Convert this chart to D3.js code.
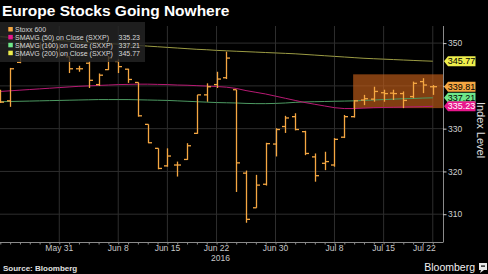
<!DOCTYPE html>
<html>
<head>
<meta charset="utf-8">
<script src="https://cdnjs.cloudflare.com/ajax/libs/d3/7.8.5/d3.min.js"></script>
<style>
body { margin: 0; background: #000; }
svg { display: block; background: #000; }
</style>
</head>
<body>
<svg width="488" height="274"></svg>
<script>
// trading days shown, one bar each
const dates = ["May 23","May 24","May 25","May 26","May 27","May 30","May 31","Jun 1","Jun 2","Jun 3",
    "Jun 6","Jun 7","Jun 8","Jun 9","Jun 10","Jun 13","Jun 14","Jun 15","Jun 16","Jun 17",
    "Jun 20","Jun 21","Jun 22","Jun 23","Jun 24","Jun 27","Jun 28","Jun 29","Jun 30","Jul 1",
    "Jul 4","Jul 5","Jul 6","Jul 7","Jul 8","Jul 11","Jul 12","Jul 13","Jul 14","Jul 15",
    "Jul 18","Jul 19","Jul 20","Jul 21","Jul 22"];
const opens = [338.6,336.5,345.5,349.4,349.0,349.5,349.0,346.8,344.0,345.3,
    340.3,343.8,345.7,343.9,340.8,331.0,325.4,321.3,321.5,322.8,
    328.9,337.9,340.3,341.9,339.1,319.6,311.5,317.0,326.4,330.5,
    332.8,329.3,323.4,321.9,321.5,328.0,332.8,336.7,336.9,338.4,
    338.3,338.2,337.5,341.0,339.8];
const highs = [339.1,344.2,350.5,350.5,350.2,350.3,350.0,346.9,344.7,345.8,
    342.9,347.0,346.2,344.0,340.8,331.0,325.4,325.4,322.3,326.6,
    337.9,340.6,343.3,348.0,339.1,320.2,319.2,326.7,330.1,333.0,
    333.6,329.5,324.2,324.6,327.8,333.2,336.7,337.9,339.8,339.1,
    339.1,338.7,341.0,341.8,340.2];
const lows = [336.0,335.1,345.3,348.3,348.5,348.6,346.8,343.0,343.3,339.5,
    340.0,343.7,343.0,340.7,332.8,326.6,320.5,321.1,318.8,322.7,
    328.8,336.3,339.5,341.6,315.2,308.0,311.5,316.7,323.5,329.0,
    329.6,323.8,317.6,320.3,321.1,327.8,332.6,335.5,336.3,336.3,
    336.7,334.8,337.1,338.3,337.9];
const closes = [336.2,344.0,349.5,349.0,349.6,349.2,347.2,344.0,344.0,341.3,
    342.5,346.5,344.5,341.5,333.0,326.7,320.7,323.6,321.5,326.0,
    337.9,339.8,341.6,346.5,322.0,308.8,316.8,326.5,329.8,332.5,
    329.8,324.2,319.0,322.3,327.5,332.8,336.5,337.0,338.7,338.2,
    338.2,336.6,340.6,340.2,339.81];

const sma50 = [338.7,338.85,339.0,339.15,339.3,339.45,339.6,339.75,339.9,340.0,
    340.1,340.2,340.3,340.35,340.4,340.4,340.35,340.3,340.2,340.15,
    340.05,339.95,339.85,339.7,339.4,338.9,338.5,338.1,337.6,337.1,
    336.6,336.1,335.7,335.3,334.9,334.7,334.7,334.8,334.9,334.95,
    335.0,335.05,335.1,335.15,335.23];
const sma100 = [336.3,336.35,336.4,336.45,336.5,336.55,336.6,336.65,336.7,336.75,
    336.8,336.8,336.8,336.8,336.75,336.7,336.65,336.6,336.5,336.4,
    336.3,336.2,336.1,336.05,336.0,335.9,335.85,335.85,335.9,336.0,
    336.15,336.25,336.3,336.35,336.4,336.45,336.5,336.6,336.7,336.8,
    336.9,337.0,337.05,337.15,337.21];
const sma200 = [351.5,351.35,351.2,351.05,350.9,350.75,350.6,350.45,350.3,350.2,
    350.05,349.9,349.75,349.6,349.45,349.3,349.15,349.0,348.85,348.7,
    348.55,348.45,348.3,348.2,348.1,348.0,347.9,347.8,347.7,347.6,
    347.5,347.35,347.2,347.05,346.9,346.75,346.6,346.45,346.35,346.25,
    346.15,346.05,345.95,345.85,345.77];

const xTickLabels = ["May 31","Jun 8","Jun 15","Jun 22","Jun 30","Jul 8","Jul 15","Jul 22"];
const yTicks = [310, 320, 330, 340, 350];
const legendNames = ["Stoxx 600","SMAVG (50) on Close (SXXP)","SMAVG (100) on Close (SXXP)","SMAVG (200) on Close (SXXP)"];
const legendValues = ["", "335.23", "337.21", "345.77"];
// shaded range at the end
const boxStart = "Jul 12";
const boxLow = 334.8;
const boxHigh = 342.7;

const colors = {
    bar: "#f5a742",
    sma50: "#b81a74",
    sma100: "#4d9a62",
    sma200: "#9c9c44",
    key50: "#e8168c",
    key100: "#6fe88a",
    key200: "#eeee4c"
};

function drawChart(){
    const svg = d3.select("svg");
    const plot = {left: 0, right: 443, top: 26, bottom: 242};

    const xScale = d3.scaleLinear().domain([0, 45]).range([0.3, 442.6]);
    const yScale = d3.scaleLinear().domain([303.5, 354]).range([plot.bottom, plot.top]);

    // grid
    svg.append("g").selectAll("line").data(yTicks).enter().append("line")
        .attr("x1", plot.left).attr("x2", plot.right)
        .attr("y1", d => yScale(d)).attr("y2", d => yScale(d))
        .style("stroke", "#2e2e2e").style("stroke-width", 1);
    svg.append("g").selectAll("line").data(xTickLabels).enter().append("line")
        .attr("x1", d => xScale(dates.indexOf(d))).attr("x2", d => xScale(dates.indexOf(d)))
        .attr("y1", plot.top).attr("y2", plot.bottom)
        .style("stroke", "#2e2e2e").style("stroke-width", 1);

    // highlight box
    svg.append("rect")
        .attr("x", xScale(dates.indexOf(boxStart)) - 1)
        .attr("y", yScale(boxHigh))
        .attr("width", plot.right - xScale(dates.indexOf(boxStart)) + 1)
        .attr("height", yScale(boxLow) - yScale(boxHigh))
        .style("fill", "#c4601a").style("opacity", 0.65);

    // moving averages
    const maLines = [[sma200, colors.sma200], [sma100, colors.sma100], [sma50, colors.sma50]];
    maLines.forEach(function(m){
        svg.append("path")
            .datum(m[0])
            .attr("d", d3.line().x((d, i) => xScale(i)).y(d => yScale(d)))
            .style("fill", "none")
            .style("stroke", m[1])
            .style("stroke-width", 1);
    });

    // OHLC bars
    const bars = svg.append("g").style("stroke", colors.bar).style("stroke-width", 1.3);
    dates.forEach(function(d, i){
        const cx = Math.round(xScale(i)) + 0.5;
        bars.append("line").attr("x1", cx).attr("x2", cx)
            .attr("y1", yScale(highs[i])).attr("y2", yScale(lows[i]));
        bars.append("line").attr("x1", cx - 3.5).attr("x2", cx)
            .attr("y1", yScale(opens[i])).attr("y2", yScale(opens[i]));
        bars.append("line").attr("x1", cx).attr("x2", cx + 3.5)
            .attr("y1", yScale(closes[i])).attr("y2", yScale(closes[i]));
    });

    // x axis with daily minor ticks
    const xAxis = svg.append("g")
        .attr("transform", "translate(0," + plot.bottom + ")")
        .call(d3.axisBottom(xScale).tickValues(d3.range(dates.length)).tickSize(2.5).tickFormat(""));
    xAxis.select(".domain").attr("d", "M0,0.5H" + plot.right).style("stroke", "#8a8a8a");
    xAxis.selectAll(".tick line").style("stroke", "#8a8a8a");

    svg.append("g").selectAll("text").data(xTickLabels).enter().append("text")
        .attr("x", (d, i) => i === xTickLabels.length - 1 ? xScale(dates.indexOf(d)) + 3 : xScale(dates.indexOf(d)))
        .attr("y", 250.5)
        .attr("text-anchor", (d, i) => i === xTickLabels.length - 1 ? "end" : "middle")
        .style("font-family", "Liberation Sans, Arial, sans-serif")
        .style("font-size", "8.5px")
        .style("fill", "#c8c8c8")
        .text(d => d);

    svg.append("text")
        .attr("x", xScale(dates.indexOf("Jun 22")) + 4)
        .attr("y", 260.5)
        .attr("text-anchor", "middle")
        .style("font-family", "Liberation Sans, Arial, sans-serif")
        .style("font-size", "8.5px")
        .style("fill", "#c8c8c8")
        .text("2016");

    // right axis, the 340 label sits under the last-close tag in the original
    const yAxis = svg.append("g")
        .attr("transform", "translate(" + plot.right + ",0)")
        .call(d3.axisRight(yScale).tickValues(yTicks).tickSize(3.5).tickPadding(1.5)
            .tickFormat(d => d === 340 ? "" : d));
    yAxis.select(".domain").attr("d", "M0.5," + plot.top + "V" + (plot.bottom + 0.5)).style("stroke", "#8a8a8a");
    yAxis.selectAll(".tick line").style("stroke", "#c8c8c8");
    yAxis.selectAll("text")
        .style("font-family", "Liberation Sans, Arial, sans-serif")
        .style("font-size", "8.5px")
        .style("fill", "#d0d0d0");

    // last value tags
    const tags = [
        [sma200[sma200.length - 1], colors.key200, "#000"],
        [sma100[sma100.length - 1], colors.key100, "#000"],
        [sma50[sma50.length - 1], colors.key50, "#fff"],
        [closes[closes.length - 1], colors.bar, "#000"]
    ];
    tags.forEach(function(t){
        const ty = yScale(t[0]);
        svg.append("path")
            .attr("d", "M444," + ty + "L448," + (ty - 5) + "H475.5V" + (ty + 5) + "H448Z")
            .style("fill", t[1]);
        svg.append("text")
            .attr("x", 461.5).attr("y", ty + 3.2)
            .attr("text-anchor", "middle")
            .style("font-family", "Liberation Sans, Arial, sans-serif")
            .style("font-size", "9px")
            .style("fill", t[2])
            .text(t[0].toFixed(2));
    });

    svg.append("text")
        .attr("transform", "translate(477,130)rotate(90)")
        .attr("text-anchor", "middle")
        .style("font-family", "Liberation Sans, Arial, sans-serif")
        .style("font-size", "11px")
        .style("fill", "#e0e0e0")
        .text("Index Level");

    // legend
    const legend = svg.append("g");
    legend.append("rect")
        .attr("x", 0).attr("y", 22).attr("width", 145).attr("height", 40)
        .style("fill", "#262626").style("opacity", 0.8);
    const keyColors = [colors.bar, colors.key50, colors.key100, colors.key200];
    legendNames.forEach(function(name, i){
        const ly = 29.3 + i * 7.9;
        legend.append("rect")
            .attr("x", 8.3).attr("y", ly - 2.3).attr("width", 4.5).attr("height", 4.5)
            .style("fill", keyColors[i]);
        legend.append("text")
            .attr("x", 15).attr("y", ly + 2.6)
            .style("font-family", "Liberation Sans, Arial, sans-serif")
            .style("font-size", "7px")
            .style("fill", "#d8d8d8")
            .text(name);
        legend.append("text")
            .attr("x", 140).attr("y", ly + 2.6)
            .attr("text-anchor", "end")
            .style("font-family", "Liberation Sans, Arial, sans-serif")
            .style("font-size", "7px")
            .style("fill", "#d8d8d8")
            .text(legendValues[i]);
    });

    // title and footer
    svg.append("text")
        .attr("x", 2).attr("y", 15.5)
        .style("font-family", "Liberation Sans, Arial, sans-serif")
        .style("font-weight", "bold")
        .style("font-size", "15.5px")
        .style("fill", "#fff")
        .text("Europe Stocks Going Nowhere");

    svg.append("text")
        .attr("x", 3).attr("y", 271)
        .style("font-family", "Liberation Sans, Arial, sans-serif")
        .style("font-weight", "bold")
        .style("font-size", "8px")
        .style("fill", "#e0e0e0")
        .text("Source: Bloomberg");

    svg.append("text")
        .attr("x", 475).attr("y", 271)
        .attr("text-anchor", "end")
        .style("font-family", "Liberation Sans, Arial, sans-serif")
        .style("font-size", "10.5px")
        .style("fill", "#f0f0f0")
        .text("Bloomberg");
    svg.append("rect").attr("x", 479).attr("y", 263).attr("width", 8).attr("height", 7).style("fill", "#e8e8e8");
    svg.append("path").attr("d", "M481,270L480,273L484,270Z").style("fill", "#e8e8e8");
    svg.append("rect").attr("x", 481).attr("y", 265.5).attr("width", 4).attr("height", 1.2).style("fill", "#000");
}

drawChart();
</script>
</body>
</html>
